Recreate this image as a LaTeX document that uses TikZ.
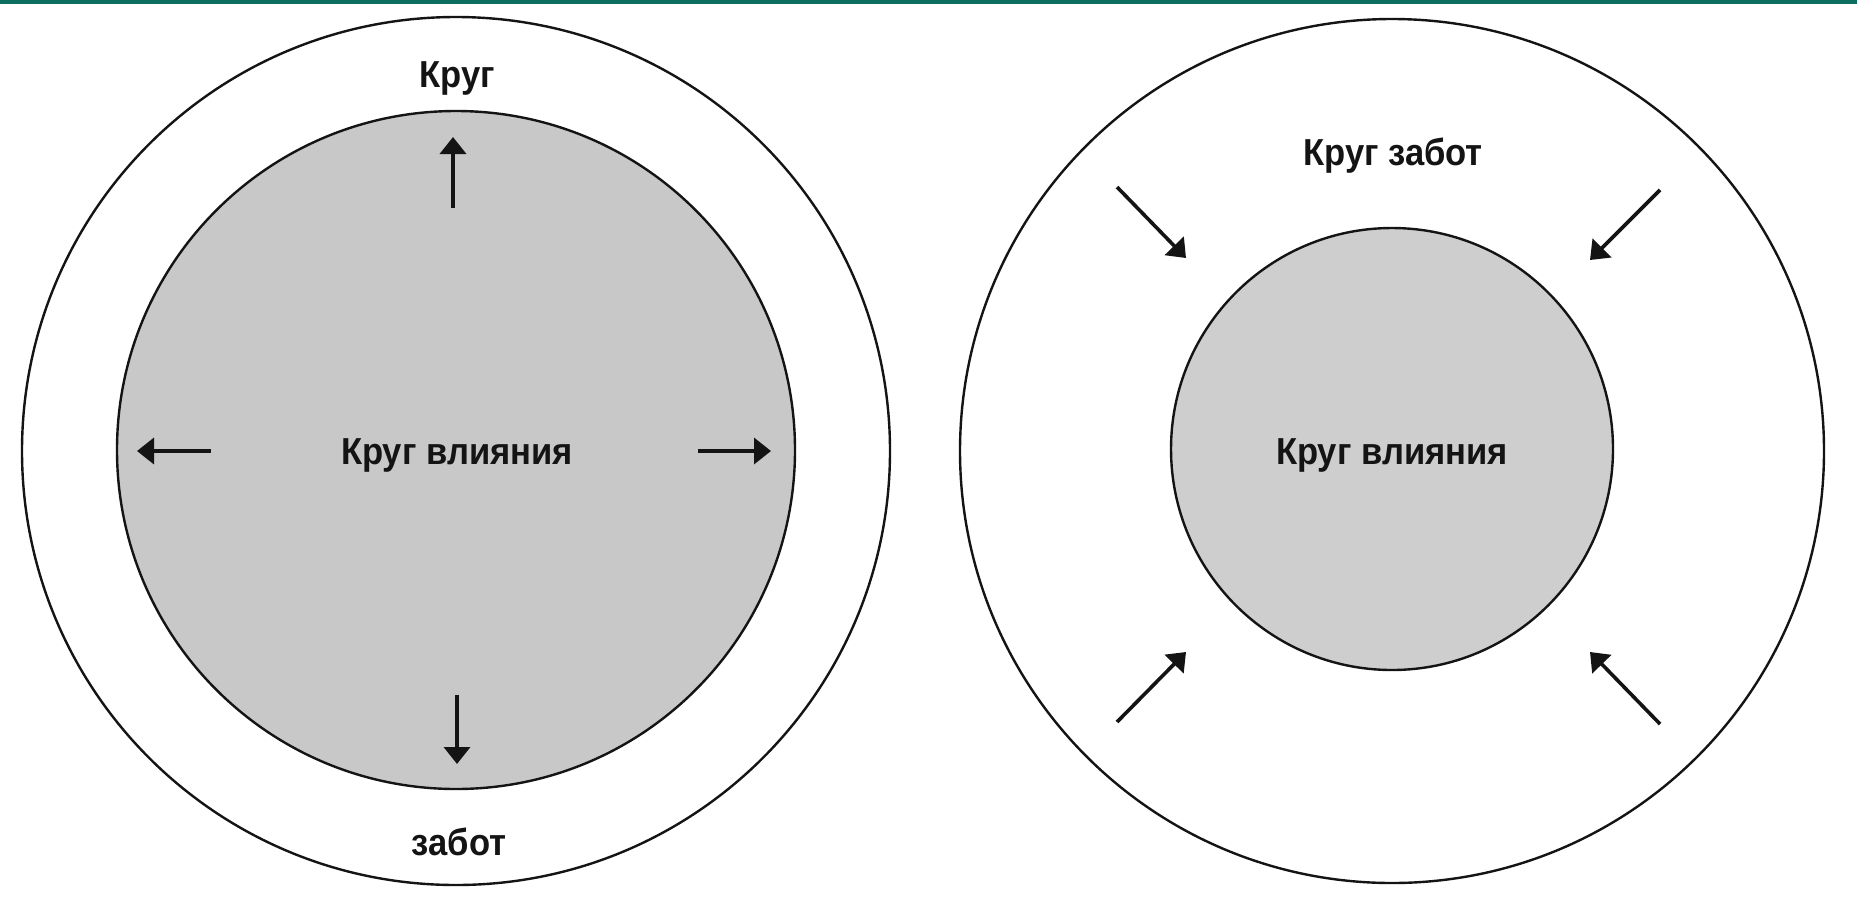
\documentclass[tikz,border=0pt]{standalone}
\usepackage{fontspec}
\setmainfont{Liberation Sans}
\newfontfamily\lblfont{Liberation Sans}[FakeStretch=0.92]
\usetikzlibrary{arrows.meta}
\definecolor{teal}{RGB}{11,110,95}
\definecolor{ink}{RGB}{20,20,20}
\definecolor{innerL}{RGB}{200,200,200}
\definecolor{innerR}{RGB}{206,206,206}
\tikzset{
  ring/.style={draw=ink, circle, line width=1.2pt, inner sep=0pt, outer sep=0pt},
  lbl/.style={font=\lblfont\bfseries\fontsize{18.8pt}{20pt}\selectfont, text=ink, inner sep=0pt, anchor=base},
  arr/.style={draw=ink, line width=1.8pt, -{Triangle[length=8.5pt,width=13pt]}}
}
\begin{document}
\begin{tikzpicture}[x=0.5pt,y=-0.5pt]
\fill[white] (0,0) rectangle (1857,901);
\useasboundingbox (0,0) rectangle (1857,901);
\fill[teal] (0,0) rectangle (1857,4);
% left diagram
\node[ring, fill=white, minimum size=434pt] (outerL) at (456,451) {};
\node[ring, fill=innerL, minimum size=339pt] (innerLc) at (456,450) {};
\node[lbl] (tKrugL) at (457,87) {Круг};
\node[lbl] (tZabotL) at (459,855) {забот};
\node[lbl] (tVlL) at (457,464) {Круг влияния};
\coordinate (uS) at (453,208); \coordinate (uE) at (453,137);
\coordinate (dS) at (457,695); \coordinate (dE) at (457,764);
\coordinate (lS) at (211,451); \coordinate (lE) at (137,451);
\coordinate (rS) at (698,451); \coordinate (rE) at (771,451);
\draw[arr] (uS) -- (uE);
\draw[arr] (dS) -- (dE);
\draw[arr] (lS) -- (lE);
\draw[arr] (rS) -- (rE);
% right diagram
\node[ring, fill=white, minimum size=432pt] (outerR) at (1392,451) {};
\node[ring, fill=innerR, minimum size=221pt] (innerRc) at (1392,449) {};
\node[lbl] (tZabotR) at (1393,165) {Круг забот};
\node[lbl] (tVlR) at (1392,464) {Круг влияния};
\coordinate (tlS) at (1117,187); \coordinate (tlE) at (1186,258);
\coordinate (trS) at (1660,190); \coordinate (trE) at (1590,260);
\coordinate (blS) at (1117,722); \coordinate (blE) at (1186,652);
\coordinate (brS) at (1660,724); \coordinate (brE) at (1590,652);
\draw[arr] (tlS) -- (tlE);
\draw[arr] (trS) -- (trE);
\draw[arr] (blS) -- (blE);
\draw[arr] (brS) -- (brE);
\end{tikzpicture}
\end{document}
